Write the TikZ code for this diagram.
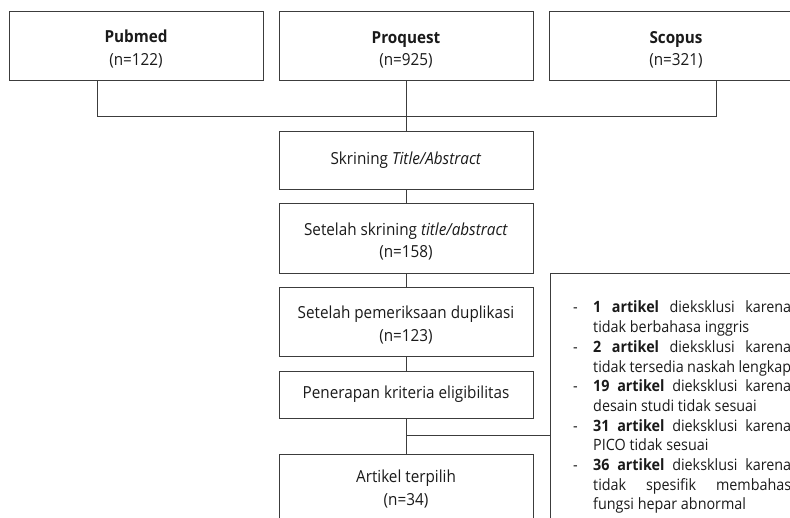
\documentclass[tikz,border=0pt]{standalone}
\usepackage{fontspec}
\setmainfont{Open Sans}[FakeStretch=0.92]
\usetikzlibrary{positioning,calc}
\definecolor{linegray}{HTML}{3C3C3C}
\definecolor{textgray}{HTML}{1A1A1A}
\tikzset{
  flowbox/.style={draw=linegray, line width=1pt, text=textgray, minimum width=254pt,
    align=center, font=\fontsize{16.6}{22.5}\selectfont, inner sep=0pt},
  exclbox/.style={draw=linegray, line width=1pt, minimum width=300pt, minimum height=300pt},
  excltext/.style={text=textgray, text width=218pt, align=justify, inner sep=0pt,
    font=\fontsize{15.6}{19.7}\selectfont},
  link/.style={draw=linegray, line width=1pt}
}
\newcommand{\twolines}[2]{\rule{0pt}{20pt}#1\\#2}
\newcommand{\exclitem}[1]{\par\hangindent=20pt\hangafter=1\noindent\makebox[20pt][l]{-}#1\par}
\begin{document}
\begin{tikzpicture}[x=1pt,y=-1pt]
\useasboundingbox (0,0) rectangle (790,517);
\clip (0,0) rectangle (790,517);
%Databases
\node[flowbox, minimum height=69pt] (pubmed) at (136,45.5) {\twolines{\textbf{Pubmed}}{(n=122)}};
\node[flowbox, minimum height=69pt] (proquest) at (406,46) {\twolines{\textbf{Proquest}}{(n=925)}};
\node[flowbox, minimum height=69pt] (scopus) at (676,46) {\twolines{\textbf{Scopus}}{(n=321)}};
%Joining line of the databases
\coordinate (pubjoin) at (97,116);
\coordinate (scojoin) at (716,116);
\draw[link] (pubmed.south -| pubjoin) -- (pubjoin) -- (scojoin) -- (scojoin |- scopus.south);
%Screening steps
\node[flowbox, minimum height=58pt] (skrining) at (406,160) {Skrining \textit{Title/Abstract}};
\node[flowbox, minimum height=70pt] (afterskrining) at (406,238) {\twolines{Setelah skrining \textit{title/abstract}}{(n=158)}};
\node[flowbox, minimum height=69pt] (duplikasi) at (406,321.5) {\twolines{Setelah pemeriksaan duplikasi}{(n=123)}};
\node[flowbox, minimum height=47pt] (eligibilitas) at (406,394.5) {Penerapan kriteria eligibilitas};
\node[flowbox, minimum height=70pt] (terpilih) at (406,489) {Artikel terpilih\\(n=34)};
\draw[link] (proquest) -- (skrining);
\draw[link] (skrining) -- (afterskrining);
\draw[link] (afterskrining) -- (duplikasi);
\draw[link] (duplikasi) -- (eligibilitas);
\draw[link] (eligibilitas) -- (terpilih);
%Excluded articles
\node[exclbox, anchor=north west] (excl) at (550,273) {};
\node[excltext, anchor=north west] (excltxt) at ($(excl.north west)+(23,20)$) {%
\exclitem{\textbf{1 artikel} dieksklusi karena\linebreak tidak berbahasa inggris}
\exclitem{\textbf{2 artikel} dieksklusi karena\linebreak tidak tersedia naskah lengkap}
\exclitem{\textbf{19 artikel} dieksklusi karena\linebreak desain studi tidak sesuai}
\exclitem{\textbf{31 artikel} dieksklusi karena\linebreak PICO tidak sesuai}
\exclitem{\textbf{36 artikel} dieksklusi karena\linebreak tidak spesifik membahas\linebreak fungsi hepar abnormal}};
\coordinate (split) at (406,435);
\draw[link] (split) -- (split -| excl.west);
\end{tikzpicture}
\end{document}
